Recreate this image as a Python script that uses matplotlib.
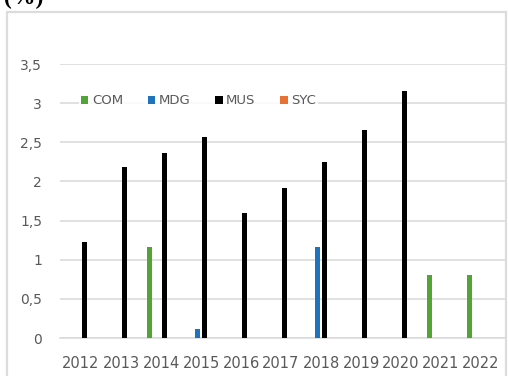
import matplotlib.pyplot as plt
from matplotlib.patches import Rectangle
import numpy as np

years = ['2012', '2013', '2014', '2015', '2016', '2017', '2018', '2019', '2020', '2021', '2022']
series = ['COM', 'MDG', 'MUS', 'SYC']
com = [0, 0, 1.16, 0, 0, 0, 0, 0, 0, 0.80, 0.80]
mdg = [0, 0, 0, 0.12, 0, 0, 1.16, 0, 0, 0, 0]
mus = [1.22, 2.18, 2.36, 2.57, 1.60, 1.92, 2.25, 2.66, 3.16, 0, 0]
syc = [0, 0, 0, 0, 0, 0, 0, 0, 0, 0, 0]
yticks = [0, 0.5, 1, 1.5, 2, 2.5, 3, 3.5]
ytick_labels = ['0', '0,5', '1', '1,5', '2', '2,5', '3', '3,5']

colors = ['#52a534', '#1f72bd', '#000000', '#e97132']

fig = plt.figure(figsize=(5.08, 3.76), dpi=100)

# light frame around the chart area
fig.patches.append(Rectangle((7 / 508, -0.02), 499 / 508, 1.02 - 12 / 376,
                             transform=fig.transFigure, fill=False,
                             edgecolor='#dcdcdc', linewidth=1.6))
fig.text(0.008, 1.005, '(%)', family='Liberation Serif', fontweight='bold',
         fontsize=17, va='center', ha='left')

ax = fig.add_axes([60 / 508, 38 / 376, 445 / 508, 274 / 376])
x = np.arange(len(years))
slot = 0.1875
width = 0.125
for i, (name, vals) in enumerate(zip(series, [com, mdg, mus, syc])):
    ax.bar(x + (i - 1.5) * slot, vals, width, color=colors[i], label=name, zorder=3)

ax.set_xlim(-0.525, 10.6)
ax.set_ylim(0, 3.5)
ax.set_yticks(yticks)
ax.set_yticklabels(ytick_labels)
ax.set_xticks(x)
ax.set_xticklabels(years)
ax.grid(axis='y', color='#d9d9d9', linewidth=1.1, zorder=0)
ax.set_axisbelow(True)
for s in ['top', 'right', 'left']:
    ax.spines[s].set_visible(False)
ax.spines['bottom'].set_color('#d9d9d9')
ax.spines['bottom'].set_linewidth(1.1)
ax.tick_params(axis='y', length=0, pad=13, labelsize=10, labelcolor='#595959')
ax.tick_params(axis='x', length=0, pad=13, labelsize=10.5, labelcolor='#595959')

leg = ax.legend(loc='center left', bbox_to_anchor=(72 / 508, 275 / 376),
                bbox_transform=fig.transFigure, ncol=4, frameon=True,
                facecolor='white', edgecolor='none', framealpha=0.85,
                fontsize=9.5, handlelength=0.55, handleheight=0.55,
                handletextpad=0.25, columnspacing=1.9, borderpad=0.2)
for t in leg.get_texts():
    t.set_color('#595959')

fig.savefig('out.png', dpi=100)
